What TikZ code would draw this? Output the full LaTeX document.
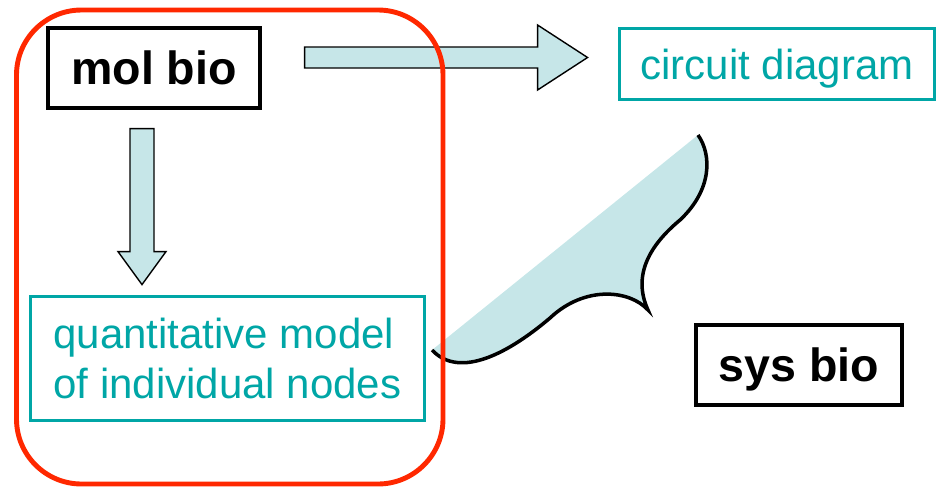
\documentclass[tikz,border=0pt]{standalone}
\usepackage{fontspec}
\setmainfont{Liberation Sans}
\usepackage{tikz}
\usetikzlibrary{calc}
\definecolor{boxteal}{RGB}{0,166,166}
\definecolor{arrowblue}{RGB}{198,230,232}
\definecolor{framered}{RGB}{255,40,0}
\tikzstyle{blackbox} = [rectangle, minimum width=4.24cm, minimum height=1.6cm, draw=black, line width=1.8pt, text depth=0pt, font=\fontsize{26.5}{31}\selectfont\bfseries]
\tikzstyle{tealbox} = [rectangle, draw=boxteal, text=boxteal, line width=1.8pt, text depth=0pt, font=\fontsize{23.9}{28.45}\selectfont]
\tikzstyle{blockarrow} = [fill=arrowblue, draw=black, line width=0.8pt, line join=miter]
\newcommand{\bracecurve}{(698,135) .. controls (712,155) and (712,190) .. (680,220) .. controls (650,245) and (632,275) .. (648,310) .. controls (630,290) and (585,285) .. (550,318) .. controls (510,352) and (460,380) .. (432,350)}

\begin{document}
\begin{tikzpicture}[x=0.02cm, y=-0.02cm]
    \useasboundingbox (0,0) rectangle (942,487);
    \node (mol) [blackbox] at (154,68) {mol bio};
    \node (circuit) [tealbox, minimum width=6.31cm, minimum height=1.43cm] at (777,64) {circuit diagram};
    \node (quant) [tealbox, minimum width=7.87cm, minimum height=2.49cm, align=left] at (227.5,358.5) {quantitative model\\of individual nodes};
    \node (sys) [blackbox, minimum width=4.12cm] at (799,365) {sys bio};

    % fat arrows out of mol bio
    \draw[blockarrow] ($(mol.south)+(-24,19)$) -- ++(24,0) -- ++(0,123) -- ++(12,0) -- ++(-24,33) -- ++(-24,-33) -- ++(12,0) -- cycle;
    \draw[blockarrow] ($(mol.east)+(43,-21)$) -- ++(233,0) -- ++(0,-22) -- ++(50,32.5) -- ++(-50,32.5) -- ++(0,-22) -- ++(-233,0) -- cycle;

    % brace
    \fill[arrowblue] \bracecurve -- cycle;
    \draw[line width=2pt] \bracecurve;

    \draw[framered, line width=2.8pt, rounded corners=1.3cm] (16.5,10) rectangle (443,484);
\end{tikzpicture}
\end{document}
